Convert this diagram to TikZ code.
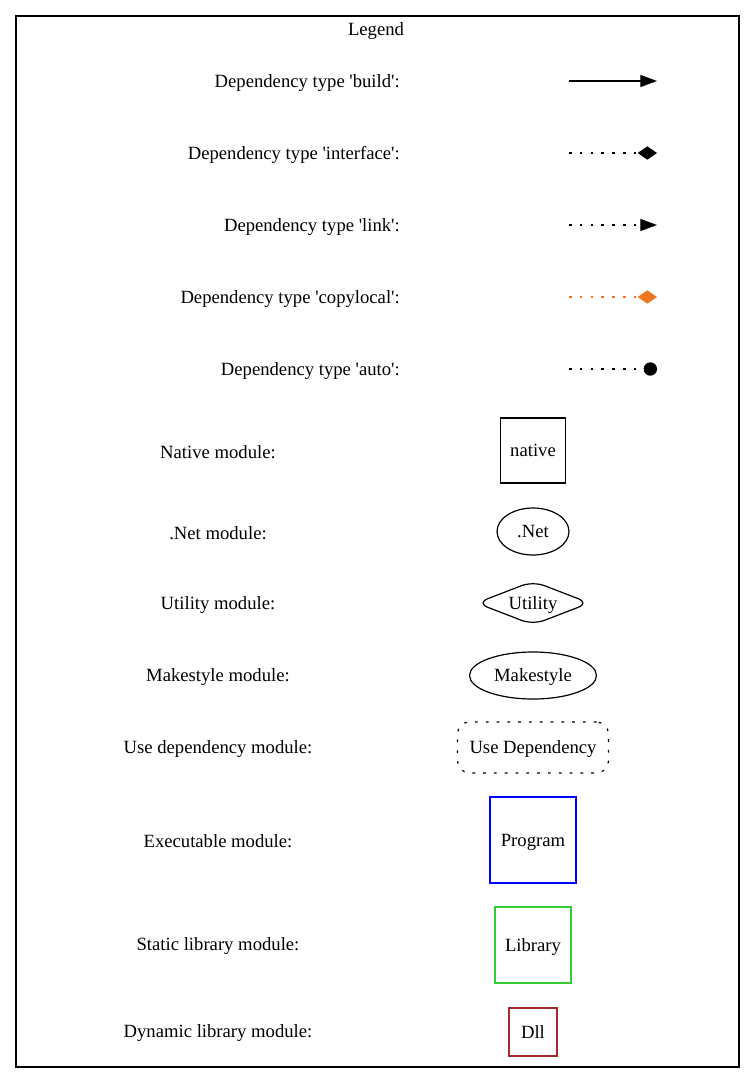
\documentclass[tikz,border=0pt]{standalone}
\usepackage{fontspec}
\setmainfont{Liberation Serif}
\usetikzlibrary{arrows.meta,shapes.geometric}
\definecolor{copyorange}{RGB}{238,118,33}
\definecolor{libgreen}{RGB}{50,205,50}
\definecolor{dllbrown}{RGB}{165,42,42}
\newcommand{\q}{\textquotesingle}
\tikzset{
  dotline/.style={line width=0.9pt, dash pattern=on 2pt off 6.1pt},
  modbox/.style={draw, line width=0.9pt, inner sep=0pt, text height=9.5pt, text depth=0pt},
}
\begin{document}
\begin{tikzpicture}[x=0.75pt,y=-0.75pt,font=\fontsize{14}{16}\selectfont]
\useasboundingbox (0,0) rectangle (755,1083);
\draw[line width=0.9pt] (16,16) rectangle (739,1067);
\node (0) at (376,31) {Legend};

% dependency types
\node[anchor=east, inner sep=0pt] (1) at (400,83) {Dependency type \q build\q:};
\node[anchor=east, inner sep=0pt] (2) at (400,155) {Dependency type \q interface\q:};
\node[anchor=east, inner sep=0pt] (3) at (400,227) {Dependency type \q link\q:};
\node[anchor=east, inner sep=0pt] (4) at (400,299) {Dependency type \q copylocal\q:};
\node[anchor=east, inner sep=0pt] (5) at (400,371) {Dependency type \q auto\q:};

\coordinate (b0) at (569,81);  \coordinate (b1) at (657,81);
\coordinate (i0) at (569,153); \coordinate (i1) at (657,153);
\coordinate (l0) at (569,225); \coordinate (l1) at (657,225);
\coordinate (c0) at (569,297); \coordinate (c1) at (657,297);
\coordinate (a0) at (569,369); \coordinate (a1) at (657,369);
\draw[line width=0.9pt, -{Triangle[length=12.5pt,width=9pt]}] (b0) -- (b1);
\draw[dotline, -{Diamond[length=14.5pt,width=10pt]}] (i0) -- (i1);
\draw[dotline, -{Triangle[length=12.5pt,width=9pt]}] (l0) -- (l1);
\draw[dotline, copyorange, -{Diamond[length=14.5pt,width=10pt]}] (c0) -- (c1);
\draw[dotline, -{Circle[length=10pt]}] (a0) -- (a1);

% module kinds
\node (6) at (218,452) {Native module:};
\node (7) at (218,533) {.Net module:};
\node (8) at (218,605) {Utility module:};
\node (9) at (218,677) {Makestyle module:};
\node (10) at (218,749) {Use dependency module:};
\node (11) at (218,841) {Executable module:};
\node (12) at (218,946) {Static library module:};
\node (13) at (218,1033) {Dynamic library module:};

\node[modbox, minimum width=48.75pt, minimum height=48.75pt] (native) at (533,450.5) {native};
\node[modbox, ellipse, minimum width=54pt, minimum height=35.25pt] (net) at (533,531.5) {.Net};
\node[modbox, diamond, aspect=2.5, minimum width=85pt, minimum height=33pt, rounded corners=9pt] (util) at (533,603) {Utility};
\node[modbox, ellipse, minimum width=95.25pt, minimum height=35.25pt] (make) at (533,675.5) {Makestyle};
\node[modbox, dotline, rounded corners=9pt, minimum width=113.25pt, minimum height=38.25pt] (use) at (533,747.5) {Use Dependency};
\node[modbox, blue, text=black, minimum width=64.5pt, minimum height=64.5pt] (prog) at (533,840) {Program};
\node[modbox, libgreen, text=black, minimum width=57pt, minimum height=57pt] (lib) at (533,945) {Library};
\node[modbox, dllbrown, text=black, minimum width=36pt, minimum height=36pt] (dll) at (533,1032) {Dll};
\end{tikzpicture}
\end{document}
